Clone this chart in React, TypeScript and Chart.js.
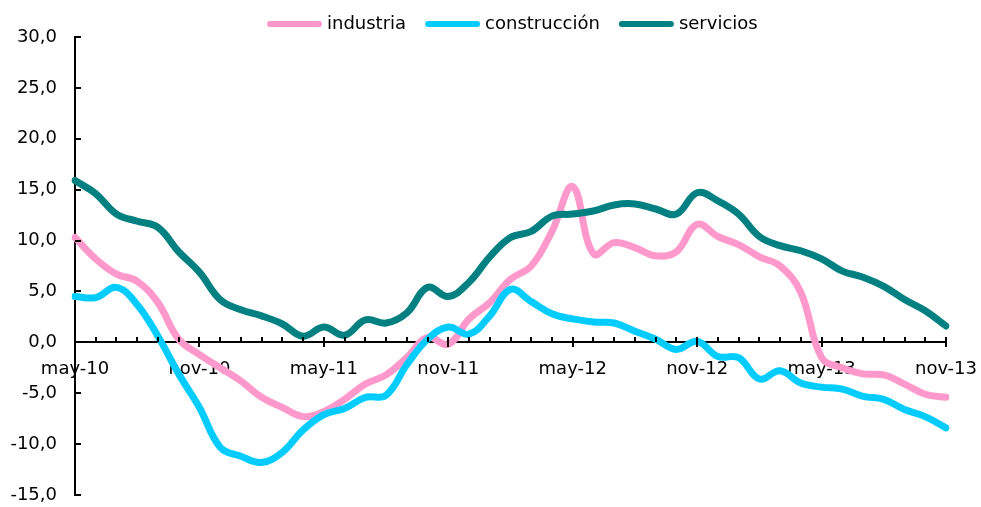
import React, { useEffect, useRef } from "react";
import { Chart, registerables } from "chart.js";

Chart.register(...registerables);

const months = [
  "may-10", "jun-10", "jul-10", "ago-10", "sep-10", "oct-10", "nov-10", "dic-10",
  "ene-11", "feb-11", "mar-11", "abr-11", "may-11", "jun-11", "jul-11", "ago-11",
  "sep-11", "oct-11", "nov-11", "dic-11", "ene-12", "feb-12", "mar-12", "abr-12",
  "may-12", "jun-12", "jul-12", "ago-12", "sep-12", "oct-12", "nov-12", "dic-12",
  "ene-13", "feb-13", "mar-13", "abr-13", "may-13", "jun-13", "jul-13", "ago-13",
  "sep-13", "oct-13", "nov-13",
];

const industria = [
  10.3, 8.2, 6.7, 6.0, 3.9, 0.3, -1.2, -2.5, -3.8, -5.4, -6.4, -7.3, -6.8, -5.6,
  -4.1, -3.2, -1.5, 0.5, -0.2, 2.3, 3.9, 6.2, 7.5, 10.9, 15.3, 8.7, 9.8, 9.3, 8.5,
  8.9, 11.6, 10.4, 9.6, 8.4, 7.5, 4.9, -1.5, -2.5, -3.1, -3.2, -4.1, -5.1, -5.4,
];

const construccion = [
  4.5, 4.4, 5.4, 3.7, 0.6, -3.1, -6.4, -10.3, -11.2, -11.8, -10.8, -8.6, -7.1,
  -6.5, -5.4, -5.2, -2.2, 0.3, 1.5, 0.8, 2.6, 5.2, 4.0, 2.8, 2.3, 2.0, 1.9, 1.1,
  0.3, -0.7, 0.1, -1.4, -1.5, -3.6, -2.8, -4.0, -4.4, -4.6, -5.3, -5.6, -6.6,
  -7.3, -8.4,
];

const servicios = [
  15.9, 14.6, 12.6, 11.9, 11.3, 8.9, 6.9, 4.2, 3.2, 2.6, 1.8, 0.6, 1.5, 0.7, 2.2,
  1.9, 2.9, 5.4, 4.5, 5.9, 8.4, 10.3, 10.9, 12.4, 12.6, 12.9, 13.5, 13.6, 13.1,
  12.6, 14.7, 13.9, 12.6, 10.4, 9.5, 9.0, 8.2, 7.0, 6.4, 5.5, 4.2, 3.1, 1.6,
];

const seriesNames = ["industria", "construcción", "servicios"];
const seriesColors = ["#FF99CC", "#00CCFF", "#008080"];

const yMin = -15;
const yMax = 30;
const yStep = 5;
const labelEvery = 6;

const FONT = "'DejaVu Sans', Verdana, sans-serif";

const axisTicksPlugin = {
  id: "axisTicks",
  afterDraw(chart: any) {
    const ctx = chart.ctx;
    const xs = chart.scales.x;
    const ys = chart.scales.y;
    const left = chart.chartArea.left;
    const y0 = Math.round(ys.getPixelForValue(0));
    ctx.save();
    ctx.strokeStyle = "#000";
    ctx.lineWidth = 2;
    ctx.beginPath();
    ys.ticks.forEach((t: any) => {
      const py = Math.round(ys.getPixelForValue(t.value));
      ctx.moveTo(left, py);
      ctx.lineTo(left + 6, py);
    });
    for (let i = 0; i < months.length; i++) {
      const px = Math.round(xs.getPixelForValue(i));
      if (i % labelEvery === 0) {
        ctx.moveTo(px, y0 - 5);
        ctx.lineTo(px, y0 + 5);
      } else {
        ctx.moveTo(px, y0 - 5);
        ctx.lineTo(px, y0);
      }
    }
    ctx.stroke();
    ctx.restore();
  },
};

const legendPlugin = {
  id: "customLegend",
  afterDraw(chart: any) {
    const ctx = chart.ctx;
    ctx.save();
    ctx.font = `18px ${FONT}`;
    ctx.textBaseline = "middle";
    ctx.textAlign = "left";
    const cy = 24;
    let x = 267;
    chart.data.datasets.forEach((ds: any) => {
      ctx.strokeStyle = ds.borderColor;
      ctx.lineWidth = 6;
      ctx.lineCap = "round";
      ctx.beginPath();
      ctx.moveTo(x + 3, cy);
      ctx.lineTo(x + 52, cy);
      ctx.stroke();
      x += 60;
      ctx.fillStyle = "#000";
      ctx.fillText(ds.label, x, cy);
      x += ctx.measureText(ds.label).width + 19;
    });
    ctx.restore();
  },
};

export default function App() {
  const ref = useRef<HTMLCanvasElement | null>(null);

  useEffect(() => {
    document.body.style.margin = "0";
    const canvas = ref.current;
    if (!canvas) return;
    const seriesData = [industria, construccion, servicios];
    const chart = new Chart(canvas, {
      type: "line",
      data: {
        labels: months,
        datasets: seriesData.map((d, i) => ({
          label: seriesNames[i],
          data: d,
          borderColor: seriesColors[i],
          backgroundColor: seriesColors[i],
          borderWidth: 7,
          pointRadius: 0,
          pointHoverRadius: 0,
          tension: 0.4,
          fill: false,
          order: 2 - i,
          borderCapStyle: "round",
          borderJoinStyle: "round",
        })),
      },
      options: {
        responsive: false,
        animation: false,
        events: [],
        layout: { padding: { top: 37, bottom: 12, right: 35, left: 0 } },
        plugins: {
          legend: { display: false },
          tooltip: { enabled: false },
        },
        scales: {
          x: {
            type: "category",
            position: { y: 0 } as any,
            offset: false,
            afterFit: (scale: any) => {
              scale.height = 0;
              scale.paddingLeft = 0;
              scale.paddingRight = 0;
            },
            grid: { display: false, drawTicks: false },
            border: { display: true, color: "#000", width: 2 },
            ticks: {
              autoSkip: false,
              maxRotation: 0,
              minRotation: 0,
              padding: 16,
              color: "#000",
              font: { family: FONT, size: 18 },
              callback: (_v: any, i: number) => (i % labelEvery === 0 ? months[i] : ""),
            },
          },
          y: {
            min: yMin,
            max: yMax,
            afterFit: (scale: any) => {
              scale.width = 75;
              scale.paddingTop = 0;
              scale.paddingBottom = 0;
            },
            grid: { display: false, drawTicks: false },
            border: { display: true, color: "#000", width: 2 },
            ticks: {
              stepSize: yStep,
              padding: 18,
              color: "#000",
              font: { family: FONT, size: 18 },
              callback: (v: any) => Number(v).toFixed(1).replace(".", ","),
            },
          },
        },
      },
      plugins: [axisTicksPlugin, legendPlugin],
    });
    return () => chart.destroy();
  }, []);

  return (
    <div style={{ width: 981, height: 507 }}>
      <canvas ref={ref} width={981} height={507} style={{ display: "block" }} />
    </div>
  );
}
